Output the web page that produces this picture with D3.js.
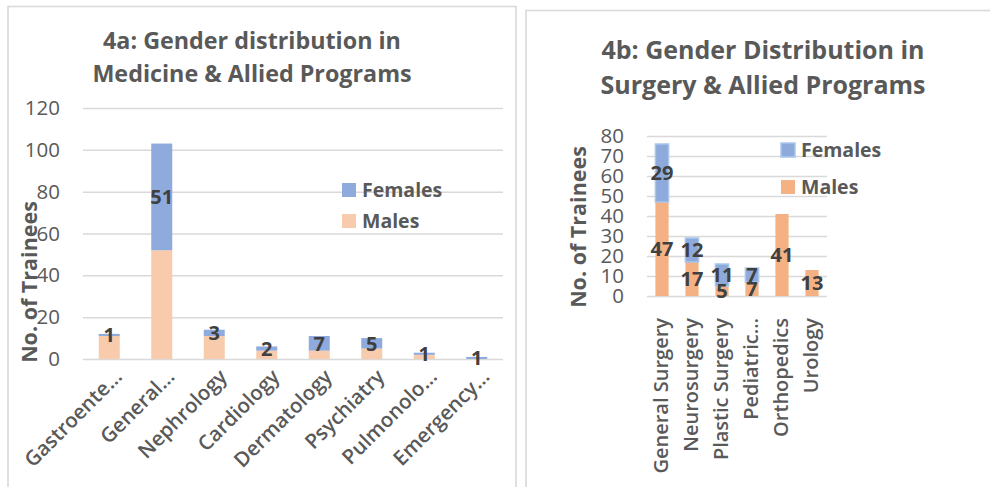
<!DOCTYPE html>
<html>
<head>
<meta charset="utf-8">
<script src="https://cdn.jsdelivr.net/npm/d3@7"></script>
<style>
  body { margin: 0; background: #fff; }
  svg { display: block; font-family: "Open Sans", Lato, sans-serif; }
</style>
</head>
<body>
<svg id="chart" width="990" height="487"></svg>
<script>
// 4a: medicine & allied programs
const medCategories = ['Gastroente…', 'General…', 'Nephrology', 'Cardiology',
  'Dermatology', 'Psychiatry', 'Pulmonolo…', 'Emergency…'];
const medMales = [11, 52, 11, 4, 4, 5, 2, 0];
const medFemales = [1, 51, 3, 2, 7, 5, 1, 1];
const medTicks = [0, 20, 40, 60, 80, 100, 120];

// 4b: surgery & allied programs
const surgCategories = ['General Surgery', 'Neurosurgery', 'Plastic Surgery',
  'Pediatric…', 'Orthopedics', 'Urology'];
const surgMales = [47, 17, 5, 7, 41, 13];
const surgFemales = [29, 12, 11, 7, 0, 0];
const surgTicks = [0, 10, 20, 30, 40, 50, 60, 70, 80];

const textGray = '#595959', labelDark = '#404040', gridCol = '#d9d9d9';
const svg = d3.select('#chart');

// panel frames
svg.append('rect').attr('x', 8).attr('y', 6.5).attr('width', 508).attr('height', 500)
  .attr('fill', 'none').attr('stroke', gridCol).attr('stroke-width', 1.6);
svg.append('rect').attr('x', 526).attr('y', 10.5).attr('width', 500).attr('height', 500)
  .attr('fill', 'none').attr('stroke', gridCol).attr('stroke-width', 1.6);

function drawChart(cfg) {
  const g = svg.append('g');
  const rows = cfg.categories.map((c, i) => ({ cat: c, Males: cfg.males[i], Females: cfg.females[i] }));
  const series = d3.stack().keys(['Males', 'Females'])(rows);

  const y = d3.scaleLinear().domain([0, d3.max(cfg.ticks)]).range([cfg.bottom, cfg.top]);
  const x = d3.scaleBand().domain(cfg.categories).range([cfg.left, cfg.right])
    .paddingInner(cfg.pad).paddingOuter(cfg.pad / 2);

  // title
  g.append('text').attr('x', cfg.titleX).attr('y', cfg.titleY)
    .attr('text-anchor', 'middle').attr('fill', textGray)
    .attr('font-weight', 700).attr('font-size', cfg.titleSize)
    .selectAll('tspan').data(cfg.title).join('tspan')
    .attr('x', cfg.titleX).attr('dy', (d, i) => i ? cfg.titleGap : 0).text(d => d);

  // y axis: gridlines + labels
  const yAxis = d3.axisLeft(y).tickValues(cfg.ticks).tickSize(-(cfg.right - cfg.left)).tickPadding(cfg.tickPad);
  const ya = g.append('g').attr('transform', `translate(${cfg.left},0)`).call(yAxis);
  ya.select('.domain').remove();
  ya.selectAll('.tick line').attr('stroke', gridCol).attr('stroke-width', 1.5);
  ya.selectAll('.tick text').attr('fill', textGray).attr('font-size', cfg.tickSize)
    .attr('font-family', '"Open Sans", Lato, sans-serif');

  // bars
  g.append('g').selectAll('g').data(series).join('g')
    .attr('fill', d => cfg.colors[d.key])
    .attr('stroke', d => cfg.strokes[d.key])
    .attr('stroke-width', 1.5)
    .selectAll('rect').data(d => d).join('rect')
    .attr('x', d => x(d.data.cat))
    .attr('width', x.bandwidth())
    .attr('y', d => y(d[1]))
    .attr('height', d => y(d[0]) - y(d[1]));

  // data labels at segment middles
  const labelled = series.filter(s => cfg.labelKeys.includes(s.key));
  g.append('g').selectAll('g').data(labelled).join('g')
    .selectAll('text').data(d => d.filter(v => v[1] - v[0] > 0)).join('text')
    .attr('x', d => x(d.data.cat) + x.bandwidth() / 2)
    .attr('y', d => y((d[0] + d[1]) / 2))
    .attr('dy', '0.36em')
    .attr('text-anchor', 'middle')
    .attr('font-weight', 700).attr('font-size', cfg.labelSize).attr('fill', labelDark)
    .text(d => d[1] - d[0]);

  // category labels
  g.append('g').selectAll('text').data(cfg.categories).join('text')
    .attr('transform', d => `translate(${x(d) + x.bandwidth() / 2 + cfg.catDx},${cfg.bottom + cfg.catDy}) rotate(${cfg.catAngle})`)
    .attr('text-anchor', 'end')
    .attr('font-weight', 600).attr('font-size', cfg.catSize).attr('fill', textGray)
    .text(d => d);

  // axis title
  g.append('text')
    .attr('transform', `translate(${cfg.axisTitleX},${cfg.axisTitleY}) rotate(-90)`)
    .attr('text-anchor', 'middle').attr('font-weight', 700)
    .attr('font-size', cfg.axisTitleSize).attr('fill', textGray)
    .text('No. of Trainees');

  // legend
  const lg = g.append('g').attr('transform', `translate(${cfg.legendX},${cfg.legendY})`);
  ['Females', 'Males'].forEach((k, i) => {
    lg.append('rect').attr('x', 0).attr('y', i * cfg.legendGap).attr('width', 14).attr('height', 14)
      .attr('fill', cfg.colors[k]).attr('stroke', cfg.strokes[k]).attr('stroke-width', 1.5);
    lg.append('text').attr('x', 20).attr('y', i * cfg.legendGap + 14)
      .attr('font-weight', 700).attr('font-size', cfg.legendSize).attr('fill', textGray)
      .text(k);
  });
}

drawChart({
  categories: medCategories, males: medMales, females: medFemales, ticks: medTicks,
  left: 83, right: 503, top: 108, bottom: 359, pad: 0.6,
  colors: { Males: '#f8cbad', Females: '#8faadc' }, strokes: { Males: 'none', Females: 'none' },
  labelKeys: ['Females'],
  title: ['4a: Gender distribution in', 'Medicine & Allied Programs'],
  titleX: 252, titleY: 49, titleGap: 33, titleSize: 23.3,
  tickSize: 20.5, tickPad: 23,
  labelSize: 20, catSize: 20.5, catDx: 14, catDy: 19, catAngle: -45,
  axisTitleX: 37, axisTitleY: 282, axisTitleSize: 21.5,
  legendX: 342, legendY: 183, legendGap: 31, legendSize: 19.5
});

drawChart({
  categories: surgCategories, males: surgMales, females: surgFemales, ticks: surgTicks,
  left: 647, right: 827, top: 136, bottom: 296, pad: 0.56,
  colors: { Males: '#f4b183', Females: '#8eaadb' }, strokes: { Males: 'none', Females: '#a9c6ec' },
  labelKeys: ['Males', 'Females'],
  title: ['4b: Gender Distribution in', 'Surgery & Allied Programs'],
  titleX: 763, titleY: 59, titleGap: 35, titleSize: 25,
  tickSize: 20.5, tickPad: 23,
  labelSize: 20, catSize: 20, catDx: 6, catDy: 22, catAngle: -90,
  axisTitleX: 586, axisTitleY: 227, axisTitleSize: 21.5,
  legendX: 781, legendY: 143, legendGap: 37, legendSize: 19.5
});
</script>
</body>
</html>
